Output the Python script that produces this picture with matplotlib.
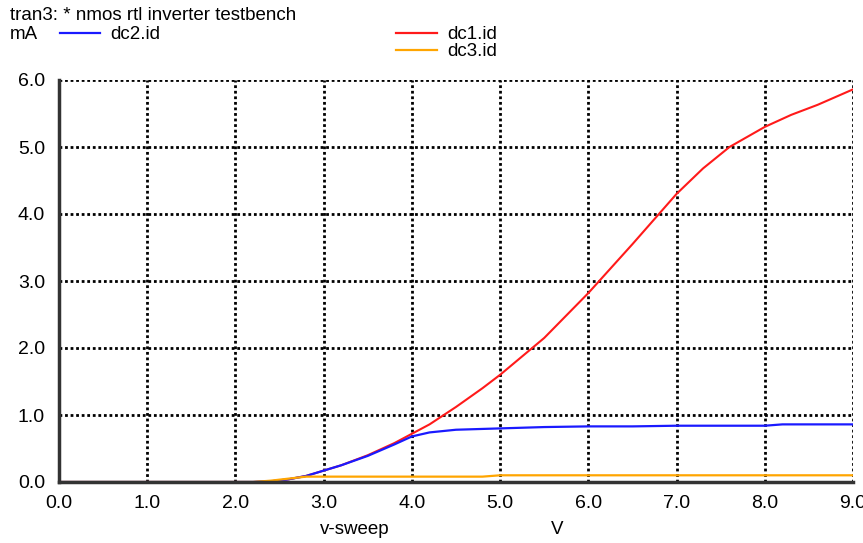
import numpy as np
import matplotlib.pyplot as plt

plt.rcParams['font.family'] = ['Liberation Sans', 'DejaVu Sans']

# datos (v-sweep en V, corriente en mA)
x_dc1 = [0.0, 2.2, 2.4, 2.6, 2.8, 3.0, 3.2, 3.5, 3.8, 4.0, 4.2, 4.5, 4.8, 5.0, 5.5,
         6.0, 6.5, 6.8, 7.0, 7.3, 7.6, 8.0, 8.3, 8.6, 9.0]
dc1 = [0.0, 0.0, 0.01, 0.04, 0.09, 0.17, 0.25, 0.40, 0.58, 0.72, 0.86, 1.12, 1.40, 1.60, 2.15,
       2.82, 3.55, 4.00, 4.30, 4.68, 5.00, 5.30, 5.48, 5.63, 5.86]

x_dc2 = [0.0, 2.2, 2.4, 2.6, 2.8, 3.0, 3.2, 3.5, 3.8, 4.0, 4.2, 4.5, 5.0, 5.5, 6.0,
         6.5, 7.0, 8.0, 8.2, 9.0]
dc2 = [0.0, 0.0, 0.01, 0.04, 0.09, 0.17, 0.25, 0.39, 0.56, 0.68, 0.74, 0.78, 0.80, 0.82, 0.83,
       0.83, 0.84, 0.84, 0.86, 0.86]

x_dc3 = [0.0, 2.2, 2.4, 2.6, 2.8, 3.0, 4.0, 4.8, 5.0, 6.0, 7.0, 8.0, 9.0]
dc3 = [0.0, 0.0, 0.02, 0.05, 0.08, 0.08, 0.08, 0.08, 0.10, 0.10, 0.10, 0.10, 0.10]

xticks = np.arange(0, 9.5, 1.0)
yticks = np.arange(0, 6.5, 1.0)

fig = plt.figure(figsize=(8.63, 5.43), dpi=100)
ax = fig.add_axes([59/863, 61/543, (853-59)/863, (482-80)/543])

ax.plot(x_dc1, dc1, color='#ff1a1a', lw=1.5)
ax.plot(x_dc2, dc2, color='#1a1aff', lw=1.6)
ax.plot(x_dc3, dc3, color='#ffa500', lw=1.6)

ax.set_xlim(0, 9)
ax.set_ylim(0, 6)
ax.set_xticks(xticks)
ax.set_yticks(yticks)
ax.set_xticklabels([f'{v:.1f}' for v in xticks])
ax.set_yticklabels([f'{v:.1f}' for v in yticks])
ax.tick_params(length=0, labelsize=14)
ax.tick_params(axis='x', pad=9)
ax.tick_params(axis='y', pad=10)
ax.grid(True, color='black', linestyle=(0, (1, 1)), linewidth=2)
for s in ['top', 'right']:
    ax.spines[s].set_visible(False)
for s in ['left', 'bottom']:
    ax.spines[s].set_color('#333333')
    ax.spines[s].set_linewidth(2.5)
    ax.spines[s].set_zorder(3)

# textos de cabecera y leyenda estilo ngspice
fs = 13.5
fig.text(10/863, 1 - 16/543, 'tran3: * nmos rtl inverter testbench', fontsize=fs, va='center')
fig.text(10/863, 1 - 35/543, 'mA', fontsize=fs, va='center')
fig.lines.append(plt.Line2D([60/863, 100/863], [1 - 33/543] * 2, color='#1a1aff', lw=1.6, transform=fig.transFigure))
fig.text(110/863, 1 - 35/543, 'dc2.id', fontsize=fs, va='center')
fig.lines.append(plt.Line2D([396/863, 437/863], [1 - 33/543] * 2, color='#ff1a1a', lw=1.6, transform=fig.transFigure))
fig.text(447/863, 1 - 35/543, 'dc1.id', fontsize=fs, va='center')
fig.lines.append(plt.Line2D([396/863, 437/863], [1 - 50/543] * 2, color='#ffa500', lw=1.6, transform=fig.transFigure))
fig.text(447/863, 1 - 52/543, 'dc3.id', fontsize=fs, va='center')
fig.text(355/863, 1 - 530/543, 'v-sweep', fontsize=fs, ha='center', va='center')
fig.text(557/863, 1 - 530/543, 'V', fontsize=fs, ha='center', va='center')

fig.savefig('out.png', dpi=100)
